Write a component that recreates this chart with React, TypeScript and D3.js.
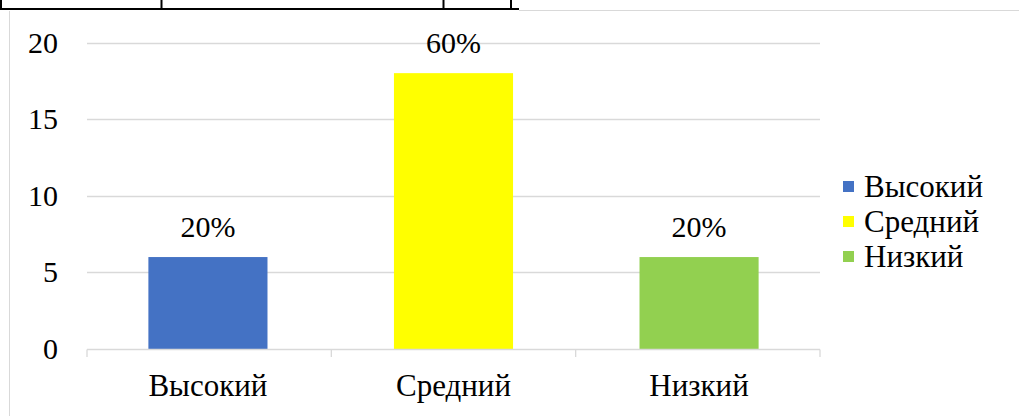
import React from "react";
import * as d3 from "d3";

const categories = ["Высокий", "Средний", "Низкий"];
const values = [6, 18, 6];
const labels = ["20%", "60%", "20%"];
const colors = ["#4472C4", "#FFFF00", "#92D050"];
const yTicks = [0, 5, 10, 15, 20];

const W = 1019;
const H = 416;
const FF = "Times New Roman";

export default function App() {
  const x = d3.scaleBand<string>().domain(categories).range([87, 820]).paddingInner(0.515).paddingOuter(0.25);
  const y = d3.scaleLinear().domain([0, 20]).range([349, 42.5]);
  return (
    <svg width={W} height={H} style={{ position: "absolute", left: 0, top: 0 }}>
      <rect x={0} y={0} width={W} height={H} fill="#fff" />
      {/* table fragment */}
      <line x1={0} x2={519} y1={9} y2={9} stroke="#000" strokeWidth={2} />
      {[1, 161.5, 443.5, 511].map((xx, i) => (
        <line key={i} x1={xx} x2={xx} y1={0} y2={9} stroke="#000" strokeWidth={2} />
      ))}
      {/* chart border */}
      <line x1={9.5} x2={9.5} y1={11} y2={H} stroke="#d9d9d9" strokeWidth={1} />
      <line x1={519} x2={W} y1={10.5} y2={10.5} stroke="#d9d9d9" strokeWidth={1} />
      {/* gridlines */}
      {yTicks.filter((t) => t > 0).map((t) => (
        <line key={t} x1={87} x2={820} y1={Math.round(y(t)) + 0.5} y2={Math.round(y(t)) + 0.5} stroke="#d9d9d9" strokeWidth={1.3} />
      ))}
      {/* y tick labels */}
      {yTicks.map((t) => (
        <text key={t} x={58} y={y(t) + 10} textAnchor="end" fontSize={30} fontFamily={FF} fill="#000">
          {t}
        </text>
      ))}
      {/* bars */}
      {categories.map((c, i) => (
        <g key={c}>
          <rect x={x(c)} y={y(values[i])} width={x.bandwidth()} height={y(0) - y(values[i])} fill={colors[i]} />
          <text x={(x(c) as number) + x.bandwidth() / 2} y={y(values[i]) - 20} textAnchor="middle" fontSize={30} fontFamily={FF} fill="#000">
            {labels[i]}
          </text>
        </g>
      ))}
      {/* x axis */}
      <line x1={87} x2={820} y1={349.5} y2={349.5} stroke="#d9d9d9" strokeWidth={1.3} />
      {[0, 1, 2, 3].map((i) => {
        const xx = 87 + (i * (820 - 87)) / 3;
        return <line key={i} x1={xx} x2={xx} y1={349.5} y2={357} stroke="#d9d9d9" strokeWidth={1.3} />;
      })}
      {categories.map((c) => (
        <text key={c} x={(x(c) as number) + x.bandwidth() / 2} y={396} textAnchor="middle" fontSize={31} fontFamily={FF} fill="#000">
          {c}
        </text>
      ))}
      {/* legend */}
      {categories.map((c, i) => (
        <g key={c}>
          <rect x={843} y={181 + i * 35} width={11} height={11} fill={colors[i]} />
          <text x={864} y={197 + i * 35} fontSize={31} fontFamily={FF} fill="#000">
            {c}
          </text>
        </g>
      ))}
    </svg>
  );
}
